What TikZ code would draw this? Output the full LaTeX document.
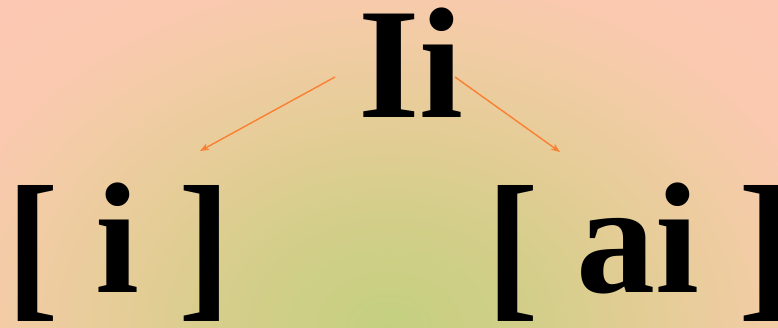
\documentclass[tikz,border=0pt]{standalone}
\usepackage{fontspec}
\setmainfont{Liberation Serif}
\usetikzlibrary{arrows.meta}
\definecolor{arrowc}{RGB}{250,128,50}
\definecolor{bgA}{RGB}{196,208,128}
\definecolor{bgB}{RGB}{212,206,138}
\definecolor{bgC}{RGB}{228,205,150}
\definecolor{bgD}{RGB}{242,204,165}
\definecolor{bgE}{RGB}{250,201,175}
\definecolor{bgF}{RGB}{253,200,180}
\pgfdeclareradialshading{bgshade}{\pgfpoint{0bp}{0bp}}{color(0bp)=(bgA); color(120bp)=(bgB); color(200bp)=(bgC); color(290bp)=(bgD); color(350bp)=(bgE); color(460bp)=(bgF)}
\newcommand\lbrk{\raisebox{-7pt}{\scalebox{1}[1.04]{[}}}
\newcommand\rbrk{\raisebox{-7pt}{\scalebox{1}[1.04]{]}}}
\tikzset{
  big/.style={inner sep=0pt, anchor=base, font=\fontsize{158}{160}\selectfont\bfseries},
  conn/.style={draw=arrowc, line width=1.4pt, -{Stealth[length=9pt,width=7pt,inset=2.5pt]}}
}
\begin{document}
\begin{tikzpicture}[x=1pt,y=1pt]
\useasboundingbox (0,0) rectangle (778,-327);
\begin{scope}
\clip (0,0) rectangle (778,-327);
\begin{scope}[shift={(389,-327)}, xscale=1.3]
\node[inner sep=0pt, transform shape] (bg) at (0,0) {\pgfuseshading{bgshade}};
\end{scope}
\end{scope}
\node[big] (top) at (411,-117) {Ii};
\node[big] (left) at (119,-292) {\lbrk\hspace{-4pt} i \rbrk};
\node[big] (right) at (639,-292) {\lbrk\hspace{-2pt} ai \rbrk};
\coordinate (ls) at (335,-77);
\coordinate (le) at (200,-151);
\coordinate (rs) at (455,-77);
\coordinate (re) at (560,-152);
\draw[conn] (ls) -- (le);
\draw[conn] (rs) -- (re);
\end{tikzpicture}
\end{document}
